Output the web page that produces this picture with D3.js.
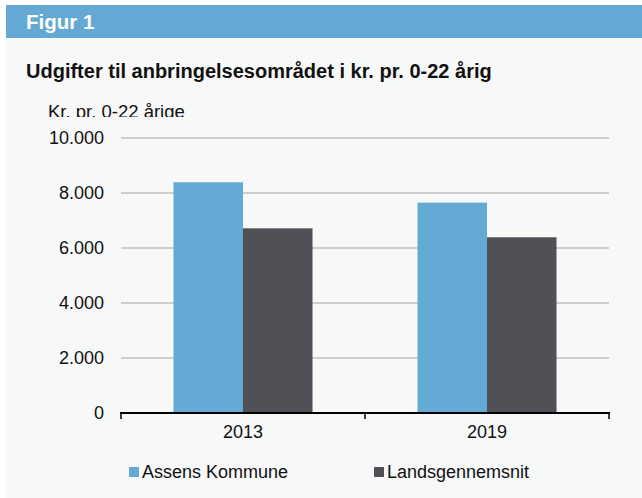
<!DOCTYPE html>
<html lang="da">
<head>
<meta charset="utf-8">
<title>Figur 1</title>
<style>
body{
  margin: 0;
  background: #ffffff;
}
svg text{
  font-family: "Liberation Sans", Arial, sans-serif;
  fill: #111;
}
</style>
</head>
<body>
<div id="chart"></div>
<script src="https://d3js.org/d3.v7.min.js"></script>
<script>

const years = ['2013', '2019'];
const seriesNames = ['Assens Kommune', 'Landsgennemsnit'];
const assens = [8390, 7650];
const lands = [6715, 6390];
const yTicks = [0, 2000, 4000, 6000, 8000, 10000];
const tickLabels = ['0', '2.000', '4.000', '6.000', '8.000', '10.000'];
const colours = ['#63aad4', '#505156'];

const width = 642;
const height = 498;
const plot = { left: 121, right: 609, top: 138, bottom: 413 };

const svg = d3.select('#chart')
  .append('svg')
  .attr('width', width)
  .attr('height', height);

// panel + header band
svg.append('rect')
  .attr('x', 6).attr('y', 5)
  .attr('width', width - 6).attr('height', height - 5)
  .attr('fill', '#f7f8f8');
svg.append('rect')
  .attr('x', 6).attr('y', 5)
  .attr('width', width - 6).attr('height', 33)
  .attr('fill', '#63a9d4');

svg.append('text')
  .attr('x', 26).attr('y', 29)
  .style('font-size', '20.5px')
  .style('font-weight', 'bold')
  .style('fill', '#ffffff')
  .text('Figur 1');

svg.append('text')
  .attr('x', 26).attr('y', 78)
  .style('font-size', '20px')
  .style('font-weight', 'bold')
  .text('Udgifter til anbringelsesområdet i kr. pr. 0-22 årig');

// unit label, cut off at the bottom like the original
svg.append('clipPath').attr('id', 'unitclip')
  .append('rect').attr('x', 0).attr('y', 90).attr('width', 300).attr('height', 27);
svg.append('text')
  .attr('x', 48).attr('y', 118)
  .attr('clip-path', 'url(#unitclip)')
  .style('font-size', '18.5px')
  .text('Kr. pr. 0-22 årige');

const x0 = d3.scaleBand()
  .domain(years)
  .range([plot.left, plot.right])
  .padding(0);

const x1 = d3.scaleBand()
  .domain(seriesNames)
  .range([0, x0.bandwidth()])
  .paddingInner(0)
  .paddingOuter(0.755);

const y = d3.scaleLinear()
  .domain([0, 10000])
  .range([plot.bottom, plot.top]);

// gridlines
svg.append('g')
  .selectAll('line')
  .data(yTicks.filter(d => d > 0))
  .join('line')
  .attr('x1', plot.left).attr('x2', plot.right)
  .attr('y1', d => y(d)).attr('y2', d => y(d))
  .attr('stroke', '#a3a3a3')
  .attr('stroke-width', 1.2);

// y tick labels
svg.append('g')
  .selectAll('text')
  .data(yTicks)
  .join('text')
  .attr('x', 104)
  .attr('y', d => y(d))
  .attr('dy', '0.35em')
  .attr('text-anchor', 'end')
  .style('font-size', '18px')
  .text((d, i) => tickLabels[i]);

// bars
const rows = years.map((yr, i) => ({ year: yr, values: [assens[i], lands[i]] }));
const groups = svg.append('g')
  .selectAll('g')
  .data(rows)
  .join('g')
  .attr('transform', d => 'translate(' + x0(d.year) + ',0)');

groups.selectAll('rect')
  .data(d => d.values.map((v, j) => ({ name: seriesNames[j], value: v, j: j })))
  .join('rect')
  .attr('x', d => x1(d.name))
  .attr('width', x1.bandwidth())
  .attr('y', d => y(d.value))
  .attr('height', d => plot.bottom - y(d.value))
  .attr('fill', d => colours[d.j]);

// x axis
const xAxis = svg.append('g')
  .attr('transform', 'translate(0,' + plot.bottom + ')')
  .call(d3.axisBottom(x0).tickSize(0).tickPadding(12));
xAxis.select('.domain').remove();
xAxis.selectAll('text')
  .style('font-size', '18px')
  .style('font-family', '"Liberation Sans", Arial, sans-serif')
  .attr('fill', '#111');

svg.append('line')
  .attr('x1', plot.left - 1).attr('x2', plot.right + 1)
  .attr('y1', plot.bottom).attr('y2', plot.bottom)
  .attr('stroke', '#000').attr('stroke-width', 2);

const boundaries = [plot.left].concat(years.map(yr => x0(yr) + x0.bandwidth()));
svg.append('g')
  .selectAll('line')
  .data(boundaries)
  .join('line')
  .attr('x1', d => d).attr('x2', d => d)
  .attr('y1', plot.bottom).attr('y2', plot.bottom + 6)
  .attr('stroke', '#000').attr('stroke-width', 1.5);

// legend
const legendX = [129, 374];
const legend = svg.append('g')
  .selectAll('g')
  .data(seriesNames)
  .join('g')
  .attr('transform', (d, i) => 'translate(' + legendX[i] + ',467)');
legend.append('rect')
  .attr('width', 10).attr('height', 10)
  .attr('fill', (d, i) => colours[i]);
legend.append('text')
  .attr('x', 13).attr('y', 10.5)
  .style('font-size', '18px')
  .text(d => d);

</script>
</body>
</html>
